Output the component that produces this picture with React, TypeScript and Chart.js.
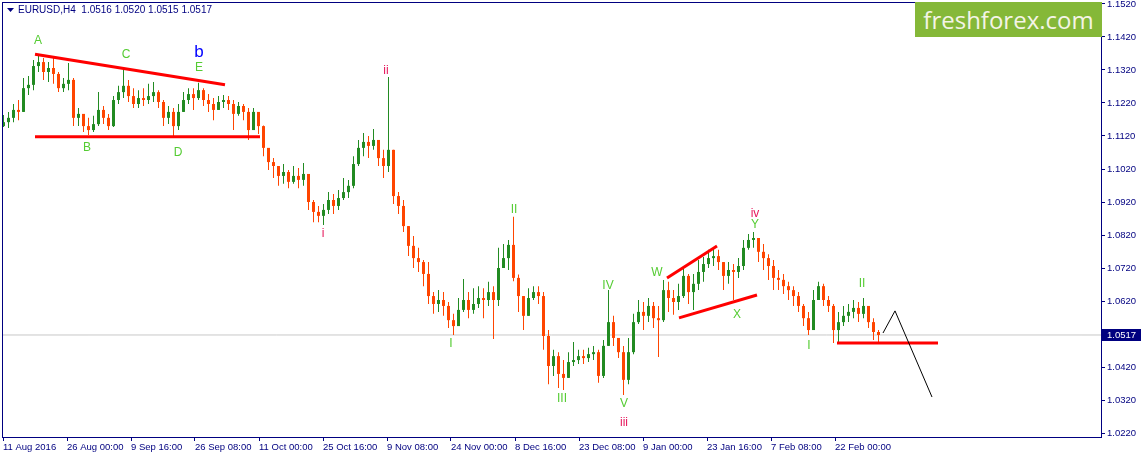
import React, { useEffect, useRef } from "react";
import { Chart, registerables } from "chart.js";

Chart.register(...registerables);

// ---- data (EURUSD H4, one candle per ~4.7 bars of the original) ----
const firstOpen = 1.115;
const closes = [
  1.1162, 1.1175, 1.1199, 1.1193, 1.1265, 1.1275, 1.1332, 1.1344, 1.1314, 1.1326,
  1.1308, 1.1265, 1.1278, 1.129, 1.1175, 1.1187, 1.115, 1.1138, 1.1156, 1.1199,
  1.1175, 1.115, 1.1229, 1.1253, 1.1272, 1.1241, 1.1217, 1.1235, 1.1229, 1.1241,
  1.1253, 1.1223, 1.1175, 1.1193, 1.115, 1.1193, 1.1229, 1.1247, 1.1235, 1.1259,
  1.1229, 1.1217, 1.1199, 1.1223, 1.1229, 1.1217, 1.1187, 1.1211, 1.1193, 1.1138,
  1.1193, 1.115, 1.1084, 1.1041, 1.1029, 1.0999, 1.1011, 1.0981, 1.0999, 1.0987,
  1.1005, 1.092, 1.089, 1.0878, 1.0896, 1.0926, 1.0908, 1.0932, 1.095, 1.0969,
  1.1035, 1.1084, 1.1102, 1.109, 1.1108, 1.1053, 1.1029, 1.1078, 1.0938, 1.0908,
  1.0847, 1.0787, 1.075, 1.0738, 1.0702, 1.0635, 1.0611, 1.0623, 1.0605, 1.0562,
  1.0544, 1.0593, 1.0623, 1.0593, 1.0611, 1.0629, 1.0623, 1.0647, 1.0623, 1.072,
  1.075, 1.079, 1.069, 1.0635, 1.0575, 1.0629, 1.0647, 1.0635, 1.0514, 1.0423,
  1.0453, 1.0399, 1.0387, 1.0435, 1.0441, 1.0453, 1.0447, 1.0459, 1.0465, 1.0393,
  1.0484, 1.0556, 1.0508, 1.0465, 1.0381, 1.0465, 1.0556, 1.0587, 1.0575, 1.0605,
  1.0568, 1.0562, 1.0653, 1.0629, 1.0617, 1.0635, 1.0696, 1.0647, 1.0672, 1.0708,
  1.0732, 1.075, 1.0756, 1.0738, 1.0696, 1.0714, 1.0708, 1.0726, 1.0781, 1.0805,
  1.0811, 1.0769, 1.075, 1.0726, 1.069, 1.0684, 1.0665, 1.0653, 1.0635, 1.0605,
  1.0568, 1.0532, 1.0623, 1.0665, 1.0623, 1.0605, 1.0532, 1.0556, 1.0575, 1.0587,
  1.0599, 1.0581, 1.0605, 1.0556, 1.0526, 1.0517,
];
const highs = [
  1.1184, 1.1193, 1.1217, 1.1229, 1.1296, 1.1302, 1.135, 1.1368, 1.1356, 1.1344,
  1.1356, 1.1314, 1.1296, 1.1341, 1.1296, 1.1205, 1.1187, 1.1175, 1.1181, 1.1253,
  1.1211, 1.1187, 1.1241, 1.1272, 1.1326, 1.129, 1.1265, 1.1259, 1.1265, 1.1278,
  1.1284, 1.1259, 1.1229, 1.1211, 1.1205, 1.1217, 1.1253, 1.1265, 1.1265, 1.1281,
  1.1265, 1.1247, 1.1235, 1.1241, 1.1244, 1.1241, 1.1229, 1.1223, 1.1217, 1.1205,
  1.1205, 1.1193, 1.1152, 1.1078, 1.1053, 1.1029, 1.1035, 1.1017, 1.1029, 1.1023,
  1.1038, 1.0999, 1.0926, 1.0908, 1.0914, 1.095, 1.0944, 1.0956, 1.0993, 1.0987,
  1.1059, 1.1108, 1.1129, 1.112, 1.1141, 1.1108, 1.1078, 1.1299, 1.1078, 1.095,
  1.0926, 1.0829, 1.0817, 1.0781, 1.0744, 1.0738, 1.0647, 1.0653, 1.0647, 1.0617,
  1.0581, 1.0629, 1.0687, 1.0647, 1.0659, 1.0665, 1.0659, 1.0678, 1.0665, 1.0781,
  1.0793, 1.0805, 1.0875, 1.07, 1.0635, 1.0659, 1.0665, 1.0665, 1.0647, 1.0532,
  1.0472, 1.0465, 1.0441, 1.0465, 1.0496, 1.0472, 1.0472, 1.0478, 1.0484, 1.0472,
  1.0502, 1.0653, 1.0575, 1.0508, 1.0484, 1.0508, 1.0581, 1.0623, 1.0617, 1.0629,
  1.0617, 1.0605, 1.0684, 1.0678, 1.0653, 1.0672, 1.0723, 1.0702, 1.0702, 1.0744,
  1.0753, 1.0775, 1.0784, 1.0775, 1.0738, 1.0738, 1.0732, 1.075, 1.0805, 1.0823,
  1.0829, 1.0811, 1.0793, 1.0762, 1.0744, 1.0714, 1.0702, 1.0678, 1.0665, 1.0647,
  1.0611, 1.0587, 1.0653, 1.0678, 1.0672, 1.0635, 1.0611, 1.0587, 1.0605, 1.0611,
  1.0623, 1.0617, 1.0629, 1.0605, 1.0568, 1.0532,
];
const lows = [
  1.1147, 1.1144, 1.1162, 1.1168, 1.1193, 1.1244, 1.1259, 1.1314, 1.129, 1.1284,
  1.1278, 1.1253, 1.1253, 1.1259, 1.115, 1.115, 1.1132, 1.1123, 1.1132, 1.115,
  1.1156, 1.1138, 1.1147, 1.1217, 1.1235, 1.1223, 1.1205, 1.1205, 1.1211, 1.1217,
  1.1223, 1.1205, 1.115, 1.1156, 1.112, 1.1138, 1.1193, 1.1217, 1.1199, 1.1229,
  1.1211, 1.1193, 1.1168, 1.1199, 1.1205, 1.1199, 1.1138, 1.1181, 1.1168, 1.1108,
  1.115, 1.1126, 1.1059, 1.1017, 1.0993, 1.0969, 1.0975, 1.0962, 1.0975, 1.0962,
  1.0969, 1.0896, 1.0859, 1.0859, 1.085, 1.0884, 1.0884, 1.0896, 1.0926, 1.0932,
  1.0962, 1.1029, 1.1059, 1.1053, 1.1078, 1.1029, 1.0993, 1.1011, 1.0914, 1.0884,
  1.0829, 1.0756, 1.072, 1.0708, 1.0665, 1.0611, 1.0581, 1.0587, 1.0575, 1.0538,
  1.0517, 1.0544, 1.0587, 1.0568, 1.0581, 1.0599, 1.0568, 1.0605, 1.0505, 1.0605,
  1.0726, 1.0714, 1.068, 1.0587, 1.0532, 1.0581, 1.0623, 1.0611, 1.0472, 1.0368,
  1.0393, 1.0356, 1.035, 1.0393, 1.0423, 1.0429, 1.0429, 1.0435, 1.0441, 1.0372,
  1.0387, 1.0502, 1.0484, 1.0447, 1.0335, 1.0368, 1.0459, 1.055, 1.0532, 1.0556,
  1.0538, 1.045, 1.0556, 1.0587, 1.0578, 1.0593, 1.0629, 1.0611, 1.0593, 1.0653,
  1.0678, 1.072, 1.0726, 1.0714, 1.0653, 1.0672, 1.0623, 1.069, 1.0714, 1.0775,
  1.0781, 1.0738, 1.0714, 1.0684, 1.0653, 1.0653, 1.0641, 1.0623, 1.0605, 1.0587,
  1.0544, 1.0517, 1.0532, 1.0623, 1.0605, 1.0587, 1.0493, 1.0493, 1.0544, 1.0556,
  1.0568, 1.0556, 1.0568, 1.0538, 1.0502, 1.0496,
];

const dateLabels = [
  "11 Aug 2016", "26 Aug 00:00", "9 Sep 16:00", "26 Sep 08:00", "11 Oct 00:00",
  "25 Oct 16:00", "9 Nov 08:00", "24 Nov 00:00", "8 Dec 16:00", "23 Dec 08:00",
  "9 Jan 00:00", "23 Jan 16:00", "7 Feb 08:00", "22 Feb 00:00",
];
const dateLabelBars = [-0.1, 12.7, 25.5, 38.3, 51.1, 63.9, 76.7, 89.5, 102.3, 115.1, 127.9, 140.7, 153.5, 166.3];
const priceTicks = [
  1.022, 1.032, 1.042, 1.062, 1.072, 1.082, 1.092, 1.102, 1.112, 1.122, 1.132, 1.142, 1.152,
];
const lastPrice = 1.0517;
const headerText = "EURUSD,H4  1.0516 1.0520 1.0515 1.0517";

// drawn lines (bar index, price)
const topLineBars = [6.3, 44.3];
const topLinePrices = [1.1368, 1.1275];
const baseLineBars = [6.3, 51.3];
const baseLinePrices = [1.1118, 1.1118];
const wedgeTopBars = [132.7, 142.7];
const wedgeTopPrices = [1.069, 1.0787];
const wedgeLowBars = [135.1, 150.7];
const wedgeLowPrices = [1.0569, 1.0638];
const supportBars = [166.7, 186.9];
const supportPrices = [1.0493, 1.0493];
const forecastBars = [175.9, 178.3, 185.7];
const forecastPrices = [1.0523, 1.059, 1.0329];

// wave labels
const waveTexts = ["A", "B", "C", "D", "E", "b", "i", "ii", "I", "II", "III", "IV", "V", "iii", "W", "X", "Y", "iv", "I", "II"];
const waveBars = [6.9, 16.7, 24.5, 34.9, 39.1, 39.1, 63.9, 76.5, 89.5, 102.1, 111.7, 120.9, 124.1, 124.1, 130.7, 146.7, 150.3, 150.3, 161.1, 171.7];
const wavePrices = [1.1408, 1.1084, 1.1365, 1.1068, 1.1326, 1.1375, 1.0823, 1.1317, 1.049, 1.0896, 1.0323, 1.0665, 1.0308, 1.025, 1.0705, 1.0578, 1.085, 1.0884, 1.0484, 1.0671];
const waveKinds = ["g", "g", "g", "g", "g", "b", "r", "r", "g", "g", "g", "g", "g", "r", "g", "g", "g", "r", "g", "g"];

const NAVY = "#000080";
const UP = "#228b22";
const DOWN = "#ff4500";
const DOJI = "#000000";
const FONT = '"Liberation Sans", Arial, sans-serif';

function pts(bars: number[], prices: number[]) {
  return bars.map((b, i) => ({ x: b, y: prices[i] }));
}

export default function App() {
  const ref = useRef<HTMLCanvasElement>(null);

  useEffect(() => {
    const canvas = ref.current;
    if (!canvas) return;
    const opens = closes.map((c, i) => (i === 0 ? firstOpen : closes[i - 1]));
    const colors = closes.map((c, i) => (c > opens[i] ? UP : c < opens[i] ? DOWN : DOJI));
    const wickData = closes.map((c, i) => ({
      x: i,
      y: [Math.min(lows[i], opens[i], c), Math.max(highs[i], opens[i], c)],
    }));
    const bodyData = closes.map((c, i) => ({ x: i, y: [opens[i], c] }));

    const overlay = {
      id: "overlay",
      beforeDraw(chart: any) {
        const { ctx, width, height } = chart;
        ctx.save();
        ctx.fillStyle = "#ffffff";
        ctx.fillRect(0, 0, width, height);
        ctx.restore();
      },
      afterDatasetsDraw(chart: any) {
        const { ctx } = chart;
        const xs = chart.scales.x;
        const ys = chart.scales.y;
        ctx.save();
        ctx.textAlign = "center";
        ctx.textBaseline = "middle";
        waveTexts.forEach((t, k) => {
          const kind = waveKinds[k];
          ctx.font = kind === "b" ? `17px ${FONT}` : `12px ${FONT}`;
          ctx.fillStyle = kind === "g" ? "#55cc33" : kind === "r" ? "#e6185c" : "#0000ff";
          ctx.fillText(t, xs.getPixelForValue(waveBars[k]), ys.getPixelForValue(wavePrices[k]));
        });
        ctx.restore();
      },
      afterDraw(chart: any) {
        const { ctx, chartArea: a } = chart;
        const ys = chart.scales.y;
        ctx.save();
        ctx.strokeStyle = NAVY;
        ctx.lineWidth = 1;
        ctx.strokeRect(a.left + 0.5, a.top + 0.5, a.right - a.left, a.bottom - a.top);
        // header
        ctx.fillStyle = NAVY;
        ctx.beginPath();
        ctx.moveTo(7, 8);
        ctx.lineTo(14, 8);
        ctx.lineTo(10.5, 12);
        ctx.closePath();
        ctx.fill();
        ctx.font = `10px ${FONT}`;
        ctx.textBaseline = "middle";
        ctx.textAlign = "left";
        ctx.fillText(headerText, 18, 10.5);
        // current price box
        const py = Math.round(ys.getPixelForValue(lastPrice));
        ctx.fillStyle = NAVY;
        ctx.fillRect(a.right + 1, py - 6, 40, 12);
        ctx.fillStyle = "#ffffff";
        ctx.font = `9.5px ${FONT}`;
        ctx.fillText(lastPrice.toFixed(4), a.right + 6, py + 0.5);
        ctx.restore();
      },
    };

    const lineDs = (data: any[], color: string, width: number, order: number) => ({
      type: "line" as const,
      data,
      borderColor: color,
      borderWidth: width,
      pointRadius: 0,
      fill: false,
      tension: 0,
      order,
    });

    const chart = new Chart(canvas, {
      type: "bar",
      data: {
        datasets: [
          lineDs(
            [
              { x: -0.3, y: lastPrice },
              { x: 219.5, y: lastPrice },
            ],
            "#c8c8c8",
            1,
            10
          ) as any,
          {
            type: "bar",
            data: wickData as any,
            backgroundColor: colors,
            barThickness: 1,
            grouped: false,
            borderWidth: 0,
            inflateAmount: 0,
            order: 6,
          } as any,
          {
            type: "bar",
            data: bodyData as any,
            backgroundColor: colors,
            barThickness: 3,
            grouped: false,
            borderWidth: 0,
            inflateAmount: 0,
            minBarLength: 1,
            order: 5,
          } as any,
          lineDs(pts(topLineBars, topLinePrices), "#ff0000", 3, 2) as any,
          lineDs(pts(baseLineBars, baseLinePrices), "#ff0000", 3, 2) as any,
          lineDs(pts(wedgeTopBars, wedgeTopPrices), "#ff0000", 3, 2) as any,
          lineDs(pts(wedgeLowBars, wedgeLowPrices), "#ff0000", 3, 2) as any,
          lineDs(pts(supportBars, supportPrices), "#ff0000", 3, 2) as any,
          lineDs(pts(forecastBars, forecastPrices), "#000000", 1, 1) as any,
        ],
      },
      options: {
        responsive: false,
        animation: false,
        devicePixelRatio: 1,
        events: [],
        layout: { padding: { left: 2, top: 2, right: 0, bottom: 0 } },
        plugins: { legend: { display: false }, tooltip: { enabled: false } },
        scales: {
          x: {
            type: "linear",
            min: -0.3,
            max: 219.5,
            offset: false,
            grid: {
              display: true,
              drawOnChartArea: false,
              drawTicks: true,
              tickLength: 4,
              color: NAVY,
              offset: false,
            },
            border: { display: false },
            ticks: {
              autoSkip: false,
              maxRotation: 0,
              minRotation: 0,
              align: "start",
              padding: 1,
              color: NAVY,
              font: { family: FONT, size: 9.5 },
              callback: (_v: any, idx: number) => dateLabels[idx] ?? "",
            },
            afterBuildTicks: (s: any) => {
              s.ticks = dateLabelBars.map((v) => ({ value: v }));
            },
            afterFit: (s: any) => {
              s.height = 21;
              s.paddingLeft = 0;
              s.paddingRight = 0;
            },
          } as any,
          y: {
            type: "linear",
            position: "right",
            min: 1.020788,
            max: 1.152606,
            grid: {
              display: true,
              drawOnChartArea: false,
              drawTicks: true,
              tickLength: 4,
              color: NAVY,
            },
            border: { display: false },
            ticks: {
              padding: 2,
              color: NAVY,
              font: { family: FONT, size: 9.5 },
              callback: (v: any) => Number(v).toFixed(4),
            },
            afterBuildTicks: (s: any) => {
              s.ticks = priceTicks.map((v) => ({ value: v }));
            },
            afterFit: (s: any) => {
              s.width = 40;
              s.paddingTop = 0;
              s.paddingBottom = 0;
            },
          } as any,
        },
      } as any,
      plugins: [overlay],
    });

    return () => chart.destroy();
  }, []);

  return (
    <div
      style={{
        position: "absolute",
        left: 0,
        top: 0,
        width: 1141,
        height: 458,
        background: "#ffffff",
        overflow: "hidden",
      }}
    >
      <canvas ref={ref} width={1141} height={458} style={{ display: "block", width: 1141, height: 458 }} />
      <div
        style={{
          position: "absolute",
          left: 915,
          top: 2,
          width: 187,
          height: 35,
          background: "#85b838",
          color: "#f4f4e6",
          font: '24px "Open Sans", sans-serif',
          display: "flex",
          alignItems: "center",
          justifyContent: "center",
          lineHeight: "35px",
        }}
      >
        freshforex.com
      </div>
    </div>
  );
}
